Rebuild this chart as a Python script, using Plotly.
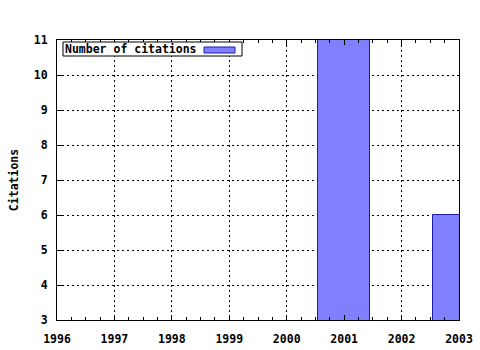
import plotly.graph_objects as go

years = [2001, 2003]
citations = [11, 6]
series_name = "Number of citations"
x_ticks = [1996, 1997, 1998, 1999, 2000, 2001, 2002, 2003]
y_ticks = [3, 4, 5, 6, 7, 8, 9, 10, 11]

bar_fill = "#8080ff"
bar_line = "#1c1caa"
font = dict(family="DejaVu Sans Mono", size=11.5, color="black", weight="bold")

fig = go.Figure()
fig.add_trace(go.Bar(
    x=years, y=citations, name=series_name, width=0.9,
    marker=dict(color=bar_fill, line=dict(color=bar_line, width=1)),
    showlegend=False,
))

axis_common = dict(
    showline=True, linecolor="black", linewidth=1,
    showgrid=True, gridcolor="black", griddash="2px,3px", gridwidth=1,
    ticks="inside", tickcolor="black", ticklen=5, tickwidth=1,
    tickfont=font, zeroline=False, automargin=False,
)

fig.update_xaxes(
    range=[x_ticks[0], x_ticks[-1]], tickvals=x_ticks,
    ticktext=[str(v) for v in x_ticks], mirror="allticks",
    ticklabelstandoff=8,
    minor=dict(dtick=0.25, ticks="inside", ticklen=3, tickcolor="black", showgrid=False),
    **axis_common,
)
fig.update_yaxes(
    range=[y_ticks[0], y_ticks[-1]], tickvals=y_ticks, mirror=True,
    ticklabelstandoff=6,
    title=dict(text="Citations", font=font, standoff=12),
    **axis_common,
)

# legend drawn gnuplot-style (text left, sample right)
fig.add_shape(type="rect", xref="paper", yref="paper",
              x0=6 / 402, x1=185 / 402, y0=1 - 16 / 280, y1=1 - 2 / 280,
              line=dict(color="black", width=1), fillcolor="white", layer="above")
fig.add_shape(type="rect", xref="paper", yref="paper",
              x0=147 / 402, x1=178 / 402, y0=1 - 13 / 280, y1=1 - 7 / 280,
              line=dict(color=bar_line, width=1), fillcolor=bar_fill, layer="above")
fig.add_annotation(text=series_name, xref="paper", yref="paper",
                   x=6 / 402, y=1 - 9 / 280, xanchor="left", yanchor="middle",
                   showarrow=False, font=font)

fig.update_layout(
    width=480, height=350,
    margin=dict(l=57, r=21, t=40, b=30),
    plot_bgcolor="white", paper_bgcolor="white",
    bargap=0, font=font,
)

fig.write_html("out.html")
